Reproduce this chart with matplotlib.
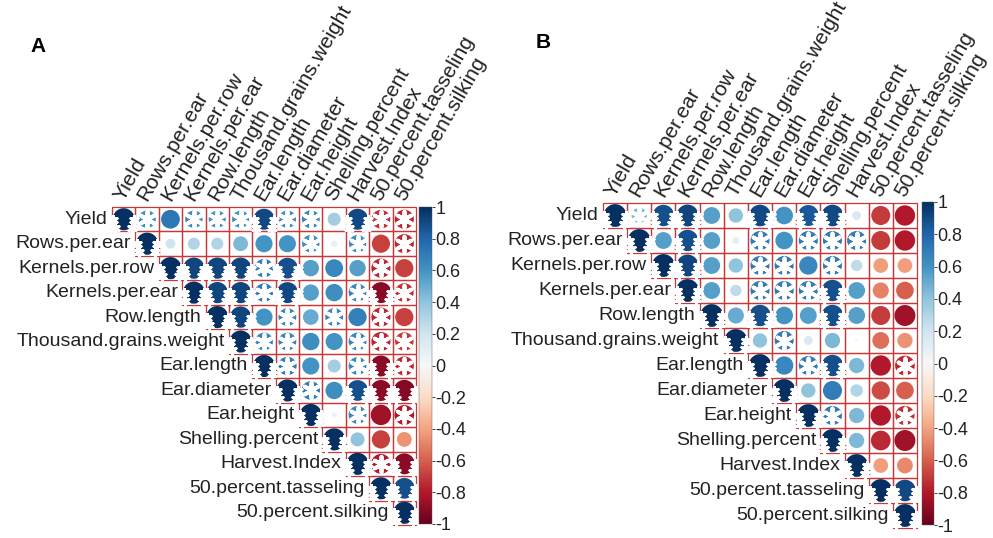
import numpy as np
import matplotlib
matplotlib.use("Agg")
from matplotlib import pyplot as plt
from matplotlib.patches import Rectangle
from matplotlib.colors import Normalize
from matplotlib.cm import ScalarMappable

plt.rcParams["font.family"] = ["Liberation Sans", "DejaVu Sans"]
plt.rcParams["axes.unicode_minus"] = False

# ----------------------------------------------------------------------------
# Data: upper triangle of the correlation matrices, one list per row
# sig code: 0 = none, 1 = single white asterisk, 2 = high (tree-like mark)
# ----------------------------------------------------------------------------
traits = [
    "Yield", "Rows.per.ear", "Kernels.per.row", "Kernels.per.ear",
    "Row.length", "Thousand.grains.weight", "Ear.length", "Ear.diameter",
    "Ear.height", "Shelling.percent", "Harvest.Index",
    "50.percent.tasseling", "50.percent.silking",
]

corr_a = [
    [1, 0.62, 0.72, 0.62, 0.6, 0.6, 0.9, 0.62, 0.65, 0.35, 0.9, -0.72, -0.75],
    [1, 0.2, 0.3, 0.3, 0.45, 0.6, 0.6, 0.62, 0.08, 0.62, -0.68, -0.75],
    [1, 0.92, 0.92, 0.92, 0.7, 0.88, 0.55, 0.65, 0.55, -0.75, -0.68],
    [1, 0.92, 0.92, 0.7, 0.9, 0.55, 0.62, 0.65, -0.9, -0.72],
    [1, 0.92, 0.6, 0.65, 0.5, 0.65, 0.68, -0.75, -0.68],
    [1, 0.65, 0.65, 0.62, 0.6, 0.65, -0.75, -0.7],
    [1, 0.7, 0.6, 0.35, 0.65, -0.9, -0.75],
    [1, 0.7, 0.62, 0.88, -0.9, -0.92],
    [1, 0.05, 0.65, -0.85, -0.8],
    [1, 0.4, -0.68, -0.45],
    [1, -0.8, -0.9],
    [1, 0.88],
    [1],
]
sig_a = [
    [2, 1, 0, 1, 1, 1, 2, 1, 1, 0, 2, 1, 1],
    [2, 0, 0, 0, 0, 0, 0, 1, 0, 1, 0, 1],
    [2, 2, 2, 2, 1, 2, 0, 0, 0, 1, 0],
    [2, 2, 2, 1, 2, 0, 0, 1, 2, 1],
    [2, 2, 0, 1, 0, 1, 0, 1, 0],
    [2, 1, 1, 0, 0, 1, 1, 1],
    [2, 1, 0, 0, 1, 2, 1],
    [2, 1, 0, 2, 2, 2],
    [2, 0, 1, 0, 1],
    [2, 0, 0, 0],
    [2, 1, 2],
    [2, 2],
    [2],
]

corr_b = [
    [1, 0.45, 0.88, 0.92, 0.55, 0.4, 0.9, 0.6, 0.85, 0.9, 0.15, -0.7, -0.8],
    [1, 0.55, 0.88, 0.55, 0.1, 0.7, 0.6, 0.7, 0.7, 0.7, -0.7, -0.8],
    [1, 0.92, 0.55, 0.4, 0.7, 0.7, 0.65, 0.7, 0.25, -0.42, -0.42],
    [1, 0.55, 0.25, 0.7, 0.7, 0.7, 0.88, 0.55, -0.5, -0.6],
    [1, 0.5, 0.88, 0.6, 0.55, 0.88, 0.55, -0.7, -0.85],
    [1, 0.4, 0.7, 0.15, 0.45, 0.02, -0.55, -0.45],
    [1, 0.65, 0.7, 0.88, 0.45, -0.8, -0.75],
    [1, 0.4, 0.7, 0.3, -0.65, -0.6],
    [1, 0.7, 0.45, -0.8, -0.72],
    [1, 0.45, -0.75, -0.85],
    [1, -0.42, -0.48],
    [1, 0.9],
    [1],
]
sig_b = [
    [2, 1, 2, 2, 0, 0, 2, 0, 2, 2, 0, 0, 0],
    [2, 0, 2, 0, 0, 1, 0, 1, 1, 1, 0, 0],
    [2, 2, 0, 0, 1, 1, 0, 1, 0, 0, 0],
    [2, 0, 0, 1, 1, 1, 2, 0, 0, 0],
    [2, 0, 2, 0, 0, 2, 0, 0, 0],
    [2, 0, 1, 0, 0, 0, 0, 0],
    [2, 0, 1, 2, 0, 0, 1],
    [2, 0, 0, 0, 0, 0],
    [2, 1, 0, 0, 1],
    [2, 0, 0, 0],
    [2, 0, 0],
    [2, 2],
    [2],
]

cbar_ticks = [1, 0.8, 0.6, 0.4, 0.2, 0, -0.2, -0.4, -0.6, -0.8, -1]

# ----------------------------------------------------------------------------
# Figure
# ----------------------------------------------------------------------------
W, H = 993, 538
fig = plt.figure(figsize=(W / 100, H / 100), dpi=100)
cmap = plt.get_cmap("RdBu")
norm = Normalize(-1, 1)
grid_col = "#C83838"
txt_col = "#222222"

# offsets (in cells) of the small white asterisks that carve the "tree" mark
tree_offsets = [(-0.44, 0.02), (0.44, 0.02), (-0.36, 0.34), (0.36, 0.34)]


def px_axes(x0, y0, x1, y1):
    """Axes from pixel box (top-left origin)."""
    return fig.add_axes([x0 / W, 1 - y1 / H, (x1 - x0) / W, (y1 - y0) / H])


def corrplot_upper(ax, corr, sig, cell_px):
    n = len(traits)
    ax.set_xlim(0, n)
    ax.set_ylim(n, 0)
    ax.axis("off")

    xs, ys, vals, star1, star2 = [], [], [], [], []
    for i, row in enumerate(corr):
        for k, r in enumerate(row):
            j = i + k
            ax.add_patch(Rectangle((j, i), 1, 1, fill=False, ec=grid_col,
                                   lw=0.9, zorder=1, clip_on=False))
            xs.append(j + 0.5)
            ys.append(i + 0.5)
            vals.append(r)
            if sig[i][k] == 1:
                star1.append((j + 0.5, i + 0.5))
            elif sig[i][k] == 2:
                for dx, dy in tree_offsets:
                    star2.append((j + 0.5 + dx, i + 0.5 + dy))

    vals = np.array(vals)
    diam = 0.94 * np.sqrt(np.abs(vals)) * cell_px * 0.72
    ax.scatter(xs, ys, s=diam ** 2, c=vals, cmap=cmap, norm=norm,
               linewidths=0, zorder=2, clip_on=False)

    if star1:
        sx, sy = zip(*star1)
        ax.scatter(sx, sy, s=(0.66 * cell_px * 0.72) ** 2, marker=(6, 2, 0),
                   color="white", linewidths=2.8, zorder=3, clip_on=False)
    if star2:
        sx, sy = zip(*star2)
        ax.scatter(sx, sy, s=(0.34 * cell_px * 0.72) ** 2, marker=(6, 2, 0),
                   color="white", linewidths=2.2, zorder=3, clip_on=False)

    # row labels (staircase) and rotated column labels
    for i, name in enumerate(traits):
        ax.text(i - 0.18, i + 0.5, name, ha="right", va="center",
                fontsize=14, color=txt_col)
        ax.text(i + 0.3, -0.3, name, ha="left", va="center",
                rotation=60, rotation_mode="anchor", fontsize=15,
                color=txt_col)


def add_cbar(box):
    cax = px_axes(*box)
    cb = fig.colorbar(ScalarMappable(norm=norm, cmap=cmap), cax=cax,
                      ticks=cbar_ticks)
    cb.ax.set_yticklabels([f"{t:g}" for t in cbar_ticks])
    cb.ax.tick_params(length=2, width=0.6, pad=0.5, labelsize=13,
                      colors=txt_col)
    cb.outline.set_linewidth(0.3)
    cb.outline.set_edgecolor("#555555")


ax_a = px_axes(112, 207, 416, 525)
corrplot_upper(ax_a, corr_a, sig_a, 23.5)
add_cbar((419, 207, 432, 524))

ax_b = px_axes(603, 203, 917, 528)
corrplot_upper(ax_b, corr_b, sig_b, 24.2)
add_cbar((922, 202, 934, 525))

fig.text(38 / W, 1 - 47 / H, "A", fontsize=15, fontweight="bold",
         ha="center", va="center")
fig.text(543 / W, 1 - 42 / H, "B", fontsize=15, fontweight="bold",
         ha="center", va="center")

fig.savefig("out.png", dpi=100)
